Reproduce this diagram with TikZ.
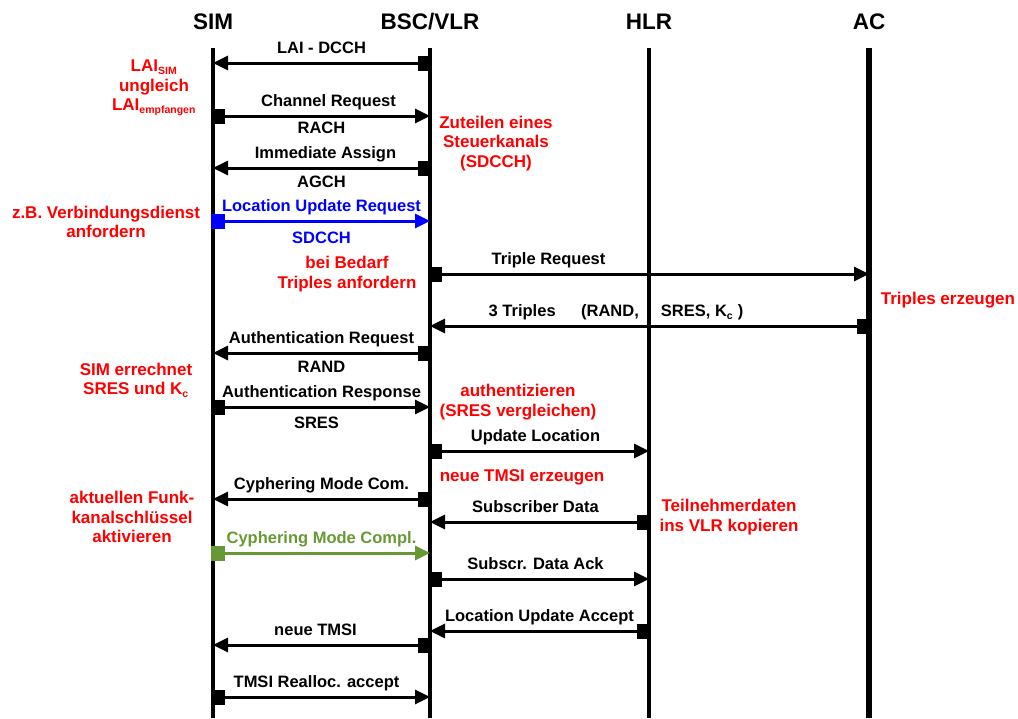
\documentclass[tikz,border=0pt]{standalone}
\usepackage{fontspec}
\setmainfont{Liberation Sans}
\usepackage{xcolor}
\definecolor{NoteRed}{RGB}{255,0,0}
\definecolor{MsgBlue}{RGB}{0,0,255}
\definecolor{MsgGreen}{RGB}{102,153,51}
\usetikzlibrary{arrows.meta}
\newcommand{\smallsub}[1]{\textsubscript{\fontsize{10.5}{11}\selectfont #1}}

\begin{document}
\begin{tikzpicture}[x=1pt, y=-1pt,
    head/.style={font=\fontsize{22.5}{26}\selectfont\bfseries, anchor=base},
    life/.style={line width=4.5pt},
    msg/.style={{Square[length=14pt,width=15pt]}-{Triangle[length=15pt,width=14pt]},
                line width=3pt, shorten <=-2pt},
    lab/.style={font=\fontsize{16.5}{19}\selectfont\bfseries, anchor=base, yshift=9.5pt},
    sublab/.style={font=\fontsize{16.5}{19}\selectfont\bfseries, anchor=base, yshift=-19pt},
    note/.style={font=\fontsize{17}{19.5}\selectfont\bfseries, text=NoteRed, align=center}
]
    \useasboundingbox (0,0) rectangle (1018,718);

    \node[head] (sim) at (213,29.5) {SIM};
    \node[head] (bsc) at (430,29.5) {BSC/VLR};
    \node[head] (hlr) at (649,29.5) {HLR};
    \node[head] (ac) at (869,29.5) {AC};

    \coordinate (top) at (0,48);
    \coordinate (bot) at (0,718);
    \draw[life] (sim |- top) -- (sim |- bot);
    \draw[life] (bsc |- top) -- (bsc |- bot);
    \draw[life, line width=4pt] (hlr |- top) -- (hlr |- bot);
    \draw[life, line width=6pt] (ac |- top) -- (ac |- bot);

    \coordinate (r1) at (0,63);
    \coordinate (r2) at (0,116);
    \coordinate (r3) at (0,168);
    \coordinate (r4) at (0,221);
    \coordinate (r5) at (0,274);
    \coordinate (r6) at (0,326);
    \coordinate (r7) at (0,353);
    \coordinate (r8) at (0,407);
    \coordinate (r9) at (0,451);
    \coordinate (r10) at (0,499);
    \coordinate (r11) at (0,522);
    \coordinate (r12) at (0,553);
    \coordinate (r13) at (0,579);
    \coordinate (r14) at (0,631);
    \coordinate (r15) at (0,645);
    \coordinate (r16) at (0,697);

    \draw[msg] (bsc |- r1) -- node[lab] (laidcch) {LAI - DCCH} (sim |- r1);
    \draw[msg] (sim |- r2) -- node[lab, xshift=7pt] (chreq) {Channel Request}
        node[sublab, yshift=2pt] (rach) {RACH} (bsc |- r2);
    \draw[msg] (bsc |- r3) -- node[lab, xshift=4pt] (immass) {Immediate Assign}
        node[sublab] (agch) {AGCH} (sim |- r3);
    \draw[msg, MsgBlue] (sim |- r4) -- node[lab] (lureq) {Location Update Request}
        node[sublab, yshift=-3pt] (sdcch) {SDCCH} (bsc |- r4);
    \draw[msg] (bsc |- r5) -- node[lab, pos=0.27] (tripreq) {Triple Request} (ac |- r5);
    \draw[msg] (ac |- r6) -- node[lab, pos=0.79] (triples) {3 Triples}
        node[lab, pos=0.59] (randlist) {(RAND,}
        node[lab, pos=0.38] (sreslist) {SRES, K\smallsub{c} )} (bsc |- r6);
    \draw[msg] (bsc |- r7) -- node[lab] (authreq) {Authentication Request}
        node[sublab] (rand) {RAND} (sim |- r7);
    \draw[msg] (sim |- r8) -- node[lab] (authres) {Authentication Response}
        node[sublab, yshift=-2pt, xshift=-5pt] (sres) {SRES} (bsc |- r8);
    \draw[msg] (bsc |- r9) -- node[lab, xshift=-4pt] (updloc) {Update Location} (hlr |- r9);
    \draw[msg] (bsc |- r10) -- node[lab] (cmcom) {Cyphering Mode Com.} (sim |- r10);
    \draw[msg] (hlr |- r11) -- node[lab, xshift=-4pt] (subdata) {Subscriber Data} (bsc |- r11);
    \draw[msg, MsgGreen] (sim |- r12) -- node[lab] (cmcompl) {Cyphering Mode Compl.} (bsc |- r12);
    \draw[msg] (bsc |- r13) -- node[lab, xshift=-4pt] (sdack) {Subscr. Data Ack} (hlr |- r13);
    \draw[msg] (hlr |- r14) -- node[lab] (luacc) {Location Update Accept} (bsc |- r14);
    \draw[msg] (bsc |- r15) -- node[lab, xshift=-6pt] (newtmsi) {neue TMSI} (sim |- r15);
    \draw[msg] (sim |- r16) -- node[lab, xshift=-5pt] (realloc) {TMSI Realloc. accept} (bsc |- r16);

    \node[note] (laidiff) at (154,88) {LAI\smallsub{SIM}\\ungleich\\LAI\smallsub{empfangen}};
    \node[note] (zuteilen) at (496,143.5) {Zuteilen eines\\Steuerkanals\\(SDCCH)};
    \node[note] (verbdienst) at (106,222) {z.B. Verbindungsdienst\\anfordern};
    \node[note] (bedarf) at (347,274) {bei Bedarf\\Triples anfordern};
    \node[note] (erzeugen) at (948,300) {Triples erzeugen};
    \node[note] (errechnet) at (136,380) {SIM errechnet\\SRES und K\smallsub{c}};
    \node[note] (authent) at (518,402) {authentizieren\\(SRES vergleichen)};
    \node[note] (tmsineu) at (522,477) {neue TMSI erzeugen};
    \node[note] (kopieren) at (729,517) {Teilnehmerdaten\\ins VLR kopieren};
    \node[note] (aktivieren) at (132,517) {aktuellen Funk-\\kanalschlüssel\\aktivieren};
\end{tikzpicture}
\end{document}
